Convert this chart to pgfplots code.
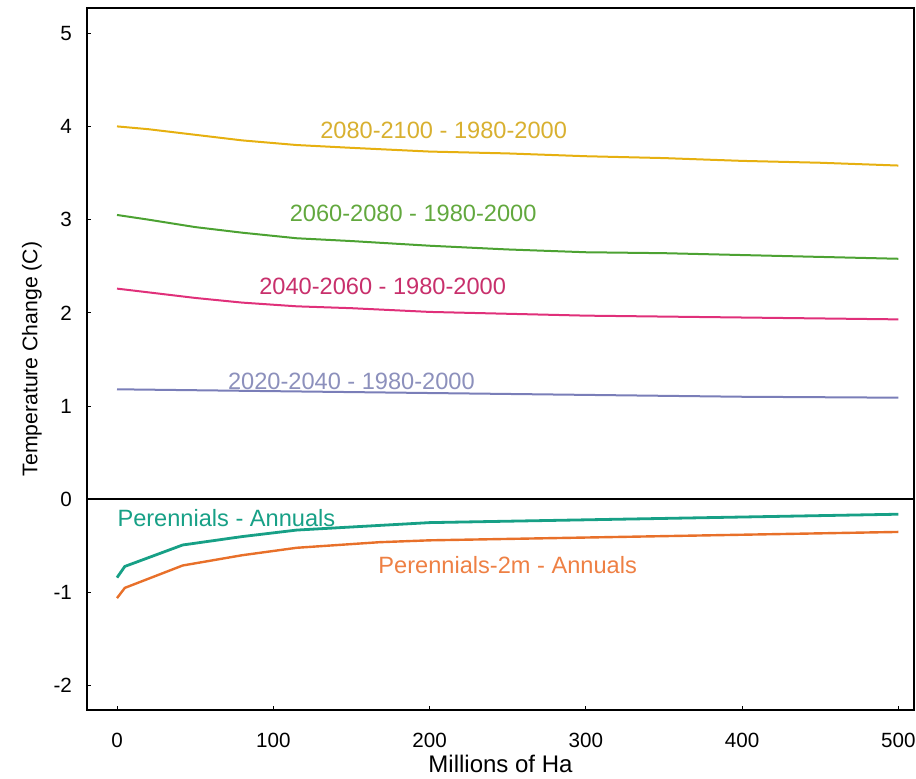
\documentclass[border=0pt]{standalone}
\usepackage{pgfplots}
\pgfplotsset{compat=1.18}
\usepackage{fontspec}
\setmainfont{Liberation Sans}
\definecolor{cgold}{HTML}{E6B010}
\definecolor{cgoldt}{HTML}{D8B030}
\definecolor{cgreen}{HTML}{4CA232}
\definecolor{cgreent}{HTML}{62A83E}
\definecolor{cmag}{HTML}{E0307A}
\definecolor{cmagt}{HTML}{C8306C}
\definecolor{cblue}{HTML}{7A7EB8}
\definecolor{cbluet}{HTML}{8C90BC}
\definecolor{cteal}{HTML}{17A086}
\definecolor{corange}{HTML}{E8702A}
\definecolor{corangetxt}{HTML}{EE8044}
\begin{document}
\begin{tikzpicture}
\begin{axis}[
  name=ax,
  scale only axis,
  width=413.5pt, height=351pt,
  xmin=-19.2, xmax=510,
  ymin=-2.26, ymax=5.27,
  xtick={0,100,200,300,400,500},
  ytick={-2,-1,0,1,2,3,4,5},
  tick align=inside,
  xtick pos=bottom, ytick pos=left,
  major tick length=2pt,
  tick style={black, line width=0.5pt},
  axis line style={black, line width=1pt},
  /pgf/number format/assume math mode=true,
  ticklabel style={font=\fontsize{10.3}{12}\selectfont},
  yticklabel style={xshift=-4pt},
  xticklabel style={yshift=-8pt},
  xlabel={Millions of Ha},
  ylabel={Temperature Change (C)},
  xlabel style={font=\fontsize{12}{14}\selectfont, yshift=3pt},
  ylabel style={font=\fontsize{10.6}{12}\selectfont, yshift=-1pt},
  clip=false,
]
\addplot[black, line width=1pt] coordinates {(-19.2,0) (510,0)};
\addplot[cgold, line width=1pt] coordinates {
(0,4.00) (20,3.97) (50,3.91) (80,3.85) (115,3.80) (150,3.77) (200,3.73) (250,3.71) (300,3.68) (350,3.66) (400,3.63) (450,3.61) (500,3.58)};
\addplot[cgreen, line width=1pt] coordinates {
(0,3.05) (20,3.00) (50,2.92) (80,2.86) (115,2.80) (150,2.77) (200,2.72) (250,2.68) (300,2.65) (350,2.64) (400,2.62) (450,2.60) (500,2.58)};
\addplot[cmag, line width=1pt] coordinates {
(0,2.26) (20,2.22) (50,2.16) (80,2.11) (115,2.07) (150,2.05) (200,2.01) (250,1.99) (300,1.97) (350,1.96) (400,1.95) (450,1.94) (500,1.93)};
\addplot[cblue, line width=1pt] coordinates {
(0,1.18) (100,1.16) (200,1.14) (300,1.12) (400,1.10) (500,1.09)};
\addplot[cteal, line width=1.4pt] coordinates {
(0,-0.84) (5,-0.72) (42,-0.49) (80,-0.40) (115,-0.33) (168,-0.28) (200,-0.25) (300,-0.22) (400,-0.19) (500,-0.16)};
\addplot[corange, line width=1.2pt] coordinates {
(0,-1.06) (5,-0.95) (42,-0.71) (80,-0.60) (115,-0.52) (168,-0.46) (200,-0.44) (300,-0.41) (400,-0.38) (500,-0.35)};
\node[text=cgoldt, font=\fontsize{11.8}{13}\selectfont] at (axis cs:209,3.96) {2080-2100 - 1980-2000};
\node[text=cgreent, font=\fontsize{11.8}{13}\selectfont] at (axis cs:189.5,3.07) {2060-2080 - 1980-2000};
\node[text=cmagt, font=\fontsize{11.8}{13}\selectfont] at (axis cs:170,2.28) {2040-2060 - 1980-2000};
\node[text=cbluet, font=\fontsize{11.8}{13}\selectfont] at (axis cs:150,1.27) {2020-2040 - 1980-2000};
\node[text=cteal, font=\fontsize{11.8}{13}\selectfont] at (axis cs:70,-0.20) {Perennials - Annuals};
\node[text=corangetxt, font=\fontsize{11.8}{13}\selectfont] at (axis cs:250,-0.71) {Perennials-2m - Annuals};
\end{axis}
\pgfresetboundingbox
\path (ax.south west) ++(-43.5pt,-34pt) coordinate (bl);
\path (ax.north east) ++(1pt,4pt) coordinate (tr);
\path (bl) rectangle (tr);
\end{tikzpicture}
\end{document}
